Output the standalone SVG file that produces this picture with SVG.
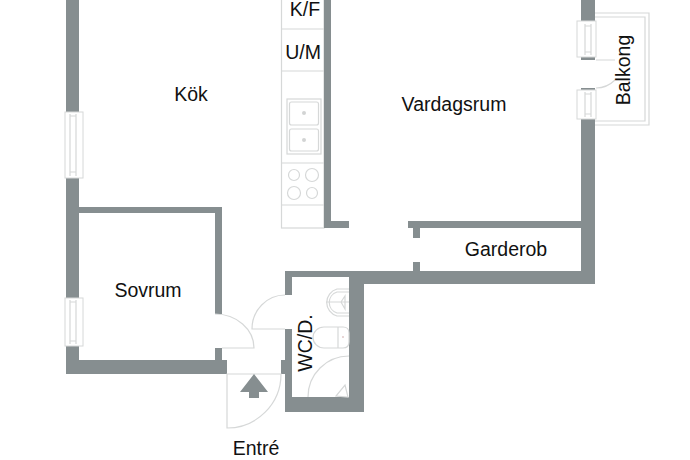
<svg xmlns="http://www.w3.org/2000/svg" width="690" height="460" viewBox="0 0 690 460">
<style>
.w{fill:#868e90}
.l{fill:none;stroke:#d6d8d8;stroke-width:1.2}
.f{fill:#fff;stroke:#d6d8d8;stroke-width:1}
text{font-family:"Liberation Sans",Arial,sans-serif;font-size:19.500px;fill:#111;text-anchor:middle}
</style>
<rect width="690" height="460" fill="#fff"/>
<g id="kitchen">
<rect class="l" x="281.500" y="-2" width="42.500" height="230"/>
<path class="l" d="M282 29H324M282 71H324M282 163H324M282 205H324"/>
<rect class="l" x="287" y="99" width="34" height="55"/>
<rect class="l" x="289.500" y="102" width="29" height="23" rx="2"/>
<rect class="l" x="289.500" y="129" width="29" height="22" rx="2"/>
<circle cx="304" cy="113" r="2" fill="#d2d4d4"/>
<circle cx="304" cy="140" r="2" fill="#d2d4d4"/>
<circle class="l" cx="294" cy="175" r="5.500"/>
<circle class="l" cx="312" cy="175" r="6.500"/>
<circle class="l" cx="294" cy="193" r="6.500"/>
<circle class="l" cx="312" cy="193" r="5.500"/>
</g>
<g id="balcony">
<path class="l" d="M595 13H649V125H595M595 17H645V121H595"/>
<path class="l" d="M596 60H615M615 80Q607 88 596 88"/>
</g>
<g id="walls">
<path class="w" d="M66 0H79V112H66ZM66 178H79V207H222V314H215V213H79V298H66ZM66 346H79V360H215V348H222V360H227V374H66Z"/>
<path class="w" d="M324 0H331V221H349V228H324Z"/>
<path class="w" d="M581 0H595V21H581ZM581 57H595V60H581ZM581 88H595V90H581ZM581 119H595V284H364V412H285V329H292V397H349V277H292V295H285V271H413V262H420V271H581V228H420V238H413V228H408V221H581Z"/>
<rect class="w" x="281" y="360" width="4" height="14"/>
</g>
<g id="windows">
<rect class="f" x="65" y="112" width="18" height="66"/>
<path class="l" d="M70 114V176M76 114V176M70 116H76M70 172H76"/>
<rect class="f" x="65" y="298" width="18" height="48"/>
<path class="l" d="M70 300V344M76 300V344M70 302H76M70 341H76"/>
<rect class="f" x="577" y="21" width="19" height="36"/>
<path class="l" d="M585 24V55M591 24V55M585 26H591M585 52H591"/>
<rect class="f" x="577" y="90" width="19" height="29"/>
<path class="l" d="M585 92V117M591 92V117M585 94H591M585 114H591"/>
</g>
<g id="connectors">
<path class="l" d="M222 348H254A39 34 0 0 0 215 314"/>
<path class="l" d="M285 329H252A33 34 0 0 1 285 295"/>
<path class="l" d="M227 374H281A54 54 0 0 1 227 428Z"/>
<path class="l" d="M308 397A41 41 0 0 1 349 356"/>
</g>
<g id="fixtures">
<path class="l" d="M349 289H337A14 14 0 0 0 337 316H349M349 292H337A11 11 0 0 0 337 313H349M326 302H349M341 302L345 296V309Z"/>
<path class="l" d="M338 327H324A11 10.500 0 0 0 324 348H338ZM338 327H343Q349 327 349 333V342Q349 348 343 348H338"/>
<path class="l" d="M345 385L348 397L336 396Z"/>
<circle cx="343" cy="337" r="1" fill="#e0c8c8"/>
</g>
<g id="arrow">
<path class="w" d="M254 374L268 392H259V398H249V392H240Z"/>
</g>
<g id="labels">
<text x="305" y="16">K/F</text>
<text x="303" y="59">U/M</text>
<text x="191" y="101">Kök</text>
<text x="454" y="111">Vardagsrum</text>
<text x="506" y="256">Garderob</text>
<text x="148" y="297">Sovrum</text>
<text x="256" y="455">Entré</text>
<text transform="translate(630 70) rotate(-90)">Balkong</text>
<text transform="translate(312 343) rotate(-90)">WC/D.</text>
</g>
</svg>
